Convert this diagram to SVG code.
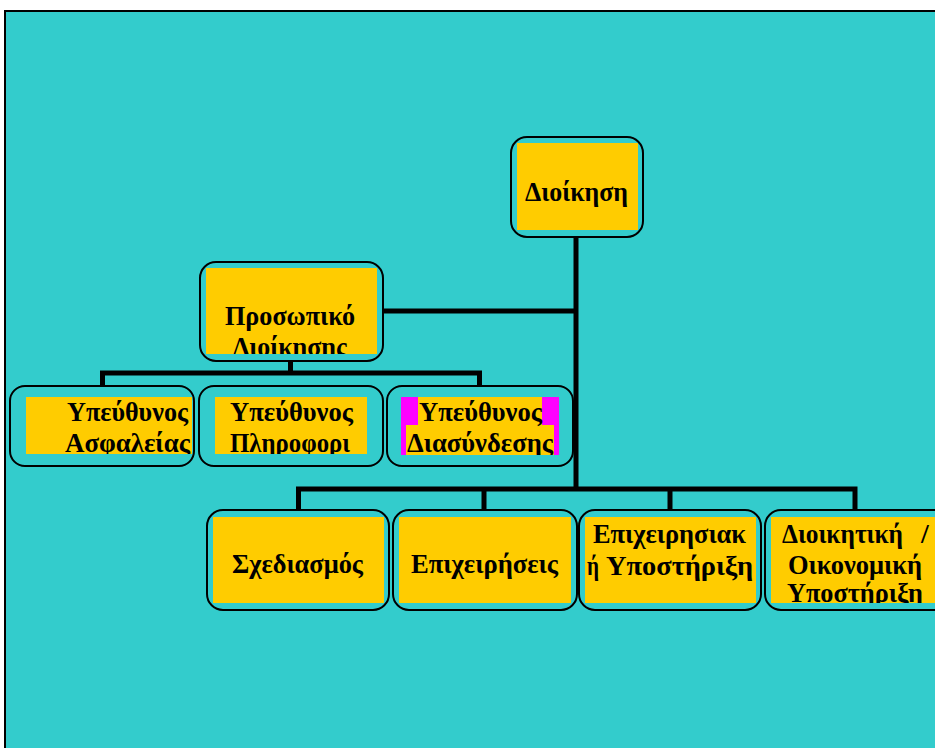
<svg xmlns="http://www.w3.org/2000/svg" width="935" height="748" viewBox="0 0 935 748">
<style>
.box{fill:none;stroke:#000;stroke-width:2}
.y{fill:#FFCC00}
.t{font-family:"Liberation Serif","Times New Roman",serif;font-weight:bold;font-size:28px;fill:#000}
.c{fill:none;stroke:#000;stroke-width:5;stroke-linecap:butt}
</style>
<defs>
<clipPath id="cp1"><rect x="206" y="268" width="171" height="86"/></clipPath>
<clipPath id="cp2"><rect x="26" y="397" width="166" height="57"/></clipPath>
<clipPath id="cp3"><rect x="215" y="397" width="152" height="57"/></clipPath>
<clipPath id="cp4"><rect x="401" y="397" width="158" height="58"/></clipPath>
<clipPath id="cp5"><rect x="771" y="517" width="164" height="86"/></clipPath>
</defs>
<rect x="0" y="0" width="935" height="748" fill="#fff"/>
<rect x="5" y="11" width="940" height="750" fill="#33CCCC" stroke="#000" stroke-width="2"/>

<g id="connectors">
<polyline class="c" points="576,237 576,490"/>
<polyline class="c" points="383,311 576,311"/>
<polyline class="c" points="290.5,361 290.5,373"/>
<polyline class="c" points="102.5,386 102.5,373 479.5,373 479.5,386"/>
<polyline class="c" points="298.5,511 298.5,489 855,489 855,511"/>
<polyline class="c" points="484,489 484,511"/>
<polyline class="c" points="670,489 670,511"/>
</g>

<g id="n-dioikisi">
<rect class="y" x="517" y="143" width="121" height="87"/>
<rect class="box" x="511" y="137" width="132" height="100" rx="16"/>
<text class="t" x="525" y="201" textLength="103" lengthAdjust="spacingAndGlyphs">Διοίκηση</text>
</g>

<g id="n-prosopiko">
<rect class="y" x="206" y="268" width="171" height="86"/>
<rect class="box" x="200" y="262" width="183" height="99" rx="16"/>
<g clip-path="url(#cp1)">
<text class="t" x="225" y="325" textLength="130" lengthAdjust="spacingAndGlyphs">Προσωπικό</text>
<text class="t" x="233" y="356" textLength="114" lengthAdjust="spacingAndGlyphs">Διοίκησης</text>
</g>
</g>

<g id="n-asfaleia">
<rect class="y" x="26" y="397" width="166" height="57"/>
<rect class="box" x="10" y="386" width="184" height="80" rx="15"/>
<g clip-path="url(#cp2)">
<text class="t" x="67" y="421" textLength="121" lengthAdjust="spacingAndGlyphs">Υπεύθυνος</text>
<text class="t" x="65" y="452" textLength="125" lengthAdjust="spacingAndGlyphs">Ασφαλείας</text>
</g>
</g>

<g id="n-pliroforiki">
<rect class="y" x="215" y="397" width="152" height="57"/>
<rect class="box" x="199" y="386" width="184" height="80" rx="15"/>
<g clip-path="url(#cp3)">
<text class="t" x="230" y="421" textLength="123" lengthAdjust="spacingAndGlyphs">Υπεύθυνος</text>
<text class="t" x="230" y="452" textLength="120" lengthAdjust="spacingAndGlyphs">Πληροφορι</text>
</g>
</g>

<g id="n-diasyndesi">
<rect x="401" y="397" width="158" height="58" fill="#FF00FF"/>
<rect class="y" x="418" y="397" width="124" height="28"/>
<rect class="y" x="406" y="425" width="148" height="30"/>
<rect class="box" x="387" y="386" width="186" height="80" rx="15"/>
<g clip-path="url(#cp4)">
<text class="t" x="419" y="421" textLength="123" lengthAdjust="spacingAndGlyphs">Υπεύθυνος</text>
<text class="t" x="407" y="452" textLength="146" lengthAdjust="spacingAndGlyphs">Διασύνδεσης</text>
</g>
</g>

<g id="n-sxediasmos">
<rect class="y" x="213" y="517" width="171" height="86"/>
<rect class="box" x="207" y="510" width="182" height="100" rx="16"/>
<text class="t" x="232" y="573" textLength="131" lengthAdjust="spacingAndGlyphs">Σχεδιασμός</text>
</g>

<g id="n-epixeiriseis">
<rect class="y" x="399" y="517" width="172" height="86"/>
<rect class="box" x="393" y="510" width="184" height="100" rx="16"/>
<text class="t" x="411" y="573" textLength="147" lengthAdjust="spacingAndGlyphs">Επιχειρήσεις</text>
</g>

<g id="n-epixeirisiaki">
<rect class="y" x="585" y="517" width="171" height="86"/>
<rect class="box" x="579" y="510" width="182" height="100" rx="16"/>
<text class="t" x="593" y="543" textLength="153" lengthAdjust="spacingAndGlyphs">Επιχειρησιακ</text>
<text class="t" x="587" y="575" textLength="12" lengthAdjust="spacingAndGlyphs">ή</text>
<text class="t" x="606" y="575" textLength="147" lengthAdjust="spacingAndGlyphs">Υποστήριξη</text>
</g>

<g id="n-dioikitiki">
<rect class="y" x="771" y="517" width="164" height="86"/>
<rect class="box" x="765" y="510" width="190" height="100" rx="16"/>
<g clip-path="url(#cp5)">
<text class="t" x="782" y="543" textLength="121" lengthAdjust="spacingAndGlyphs">Διοικητική</text>
<text class="t" x="921" y="543">/</text>
<text class="t" x="788" y="574" textLength="134" lengthAdjust="spacingAndGlyphs">Οικονομική</text>
<text class="t" x="787" y="602" textLength="136" lengthAdjust="spacingAndGlyphs">Υποστήριξη</text>
</g>
</g>
</svg>
